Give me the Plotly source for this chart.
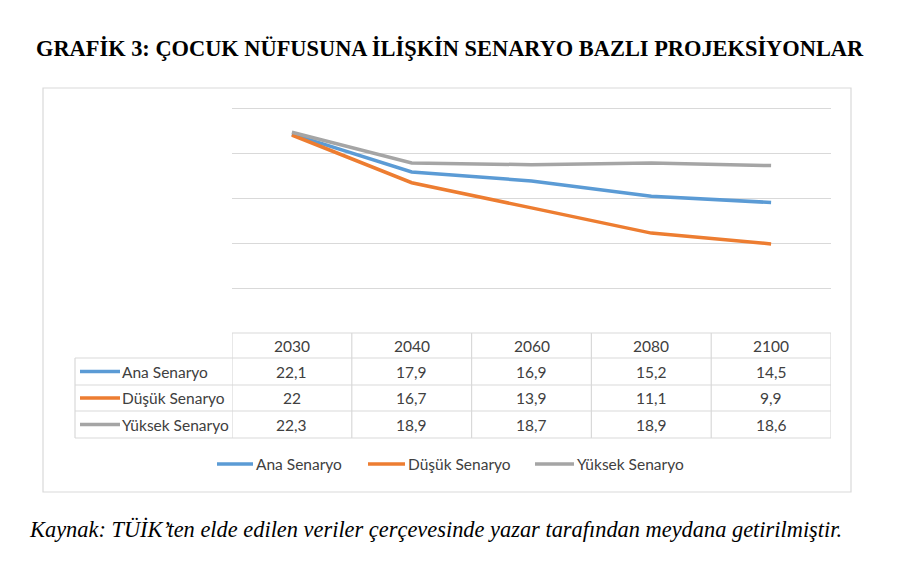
import plotly.graph_objects as go

years = ["2030", "2040", "2060", "2080", "2100"]
series_names = ["Ana Senaryo", "Düşük Senaryo", "Yüksek Senaryo"]
ana = [22.1, 17.9, 16.9, 15.2, 14.5]
dusuk = [22.0, 16.7, 13.9, 11.1, 9.9]
yuksek = [22.3, 18.9, 18.7, 18.9, 18.6]
series_values = [ana, dusuk, yuksek]
colors = ["#5B9BD5", "#ED7D31", "#A5A5A5"]

title_text = "GRAFİK 3: ÇOCUK NÜFUSUNA İLİŞKİN SENARYO BAZLI PROJEKSİYONLAR"
caption_text = "Kaynak: TÜİK’ten elde edilen veriler çerçevesinde yazar tarafından meydana getirilmiştir."

W, H = 900, 566
def px(x):
    return x / W
def py(y):
    return 1 - y / H

def fmt(v):
    s = ("%.1f" % v).rstrip("0").rstrip(".")
    return s.replace(".", ",")

GRID = "#d9d9d9"
TXT = "#404040"
FONT = "Lato"
FS = 15.5

fig = go.Figure()
for name, vals, c in zip(series_names, series_values, colors):
    fig.add_trace(go.Scatter(x=list(range(len(years))), y=vals, mode="lines", name=name,
                             line=dict(color=c, width=3.5), showlegend=False))

shapes = []
annotations = []

# outer frame
shapes.append(dict(type="rect", xref="paper", yref="paper", x0=px(43), x1=px(851),
                   y0=py(492), y1=py(88), line=dict(color=GRID, width=1.2), layer="below"))

# table geometry (pixels)
hdr_top, r1, r2, r3, tbl_bot = 333, 358, 385, 411, 438
label_left = 75
n = len(years)
shapes.append(dict(type="line", xref="x", yref="paper", x0=-0.5, x1=n - 0.5,
                   y0=py(hdr_top), y1=py(hdr_top), line=dict(color=GRID, width=1.2)))
for yy in [r1, r2, r3, tbl_bot]:
    shapes.append(dict(type="line", xref="paper", yref="paper", x0=px(label_left), x1=px(831),
                       y0=py(yy), y1=py(yy), line=dict(color=GRID, width=1.2)))
for i in range(n + 1):
    shapes.append(dict(type="line", xref="x", yref="paper", x0=i - 0.5, x1=i - 0.5,
                       y0=py(hdr_top), y1=py(tbl_bot), line=dict(color=GRID, width=1.2)))
shapes.append(dict(type="line", xref="paper", yref="paper", x0=px(label_left), x1=px(label_left),
                   y0=py(r1), y1=py(tbl_bot), line=dict(color=GRID, width=1.2)))

def txt(x, y, text, xref="paper", xanchor="center", size=FS, family=FONT, color=TXT):
    annotations.append(dict(x=x, y=y, xref=xref, yref="paper", text=text, showarrow=False,
                            xanchor=xanchor, yanchor="middle",
                            font=dict(family=family, size=size, color=color)))

for i, yr in enumerate(years):
    txt(i, py((hdr_top + r1) / 2), yr, xref="x")
row_centers = [(r1 + r2) / 2, (r2 + r3) / 2, (r3 + tbl_bot) / 2]
for rc, name, vals, c in zip(row_centers, series_names, series_values, colors):
    shapes.append(dict(type="line", xref="paper", yref="paper", x0=px(80), x1=px(120),
                       y0=py(rc), y1=py(rc), line=dict(color=c, width=3.5)))
    txt(px(120), py(rc), name, xanchor="left")
    for i, v in enumerate(vals):
        txt(i, py(rc), fmt(v), xref="x")

# legend
leg_y = 464
leg_keys = [(217, 253), (368, 405), (535, 574)]
for (a, b), name, c in zip(leg_keys, series_names, colors):
    shapes.append(dict(type="line", xref="paper", yref="paper", x0=px(a), x1=px(b),
                       y0=py(leg_y), y1=py(leg_y), line=dict(color=c, width=3.5)))
    txt(px(b + 1), py(leg_y), name, xanchor="left")

# title & caption
txt(px(450), py(48), "<b>" + title_text + "</b>", size=22.4, family="Liberation Serif", color="#000")
txt(px(27), py(529), "<i>" + caption_text + "</i>", xanchor="left", size=22.4,
    family="Liberation Serif", color="#000")

# y scale: 0 at y=333 px, 25 at y=108 px -> 9 px per unit; extend slightly so 25 grid shows
y_max = 25.4
top_px = 333 - 9 * y_max

fig.update_layout(
    width=W, height=H, margin=dict(l=0, r=0, t=0, b=0),
    paper_bgcolor="white", plot_bgcolor="white",
    xaxis=dict(domain=[px(232), px(831)], range=[-0.5, n - 0.5], showgrid=False,
               showticklabels=False, zeroline=False, showline=False, fixedrange=True),
    yaxis=dict(domain=[py(333), py(top_px)], range=[0, y_max], dtick=5, tick0=0, showgrid=True,
               gridcolor=GRID, gridwidth=1.2, showticklabels=False, zeroline=False,
               showline=False, fixedrange=True),
    shapes=shapes, annotations=annotations, showlegend=False,
)

fig.write_html("out.html")
